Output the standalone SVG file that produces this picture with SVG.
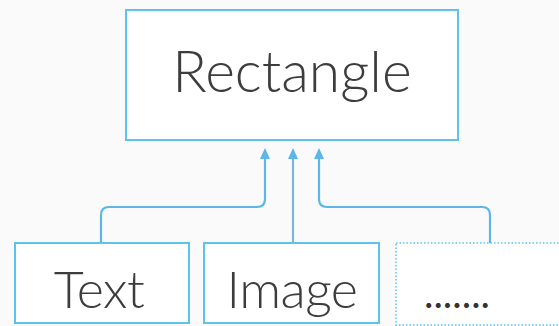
<svg xmlns="http://www.w3.org/2000/svg" width="559" height="326" viewBox="0 0 559 326">
<style>
.box{fill:#ffffff;stroke:#5cc3ec;stroke-width:2}
.dot{fill:#ffffff;stroke:#5cc3ec;stroke-width:1.5;stroke-dasharray:1.5 2}
.lbl{font-family:Lato,"Open Sans","Liberation Sans",sans-serif;font-weight:300;font-size:57px;fill:#3d3d3d;text-anchor:middle}
.sm{font-size:52px;letter-spacing:-0.5px}
.con{fill:none;stroke:#5cb6e8;stroke-width:2.2}
</style>
<rect width="559" height="326" fill="#fafafa"/>
<g id="connectors">
<path class="con" d="M101,243 V215 Q101,207 109,207 H257 Q265,207 265,199 V157" />
<path d="M260,159 L265,148 L270,159 Z" fill="#5cb6e8"/>
<path class="con" d="M293,243 V157" style="stroke:#7db4d8"/>
<path d="M288,159 L293,148 L298,159 Z" fill="#5cb6e8"/>
<path class="con" d="M490,243 V215 Q490,207 482,207 H327 Q319,207 319,199 V157" />
<path d="M314,159 L319,148 L324,159 Z" fill="#5cb6e8"/>
</g>
<g id="rectangle">
<rect class="box" x="126" y="10" width="332" height="130"/>
<text class="lbl" x="292" y="92">Rectangle</text>
</g>
<g id="text">
<rect class="box" x="15" y="243" width="174" height="80"/>
<text class="lbl sm" x="99" y="308">Text</text>
</g>
<g id="image">
<rect class="box" x="204" y="243" width="175" height="80"/>
<text class="lbl sm" x="292" y="308">Image</text>
</g>
<g id="more">
<rect class="dot" x="396" y="243" width="180" height="82"/>
<text x="457" y="308" style="font-family:Lato,'Liberation Sans',sans-serif;font-weight:400;font-size:40px;fill:#333333;text-anchor:middle">.......</text>
</g>
</svg>
